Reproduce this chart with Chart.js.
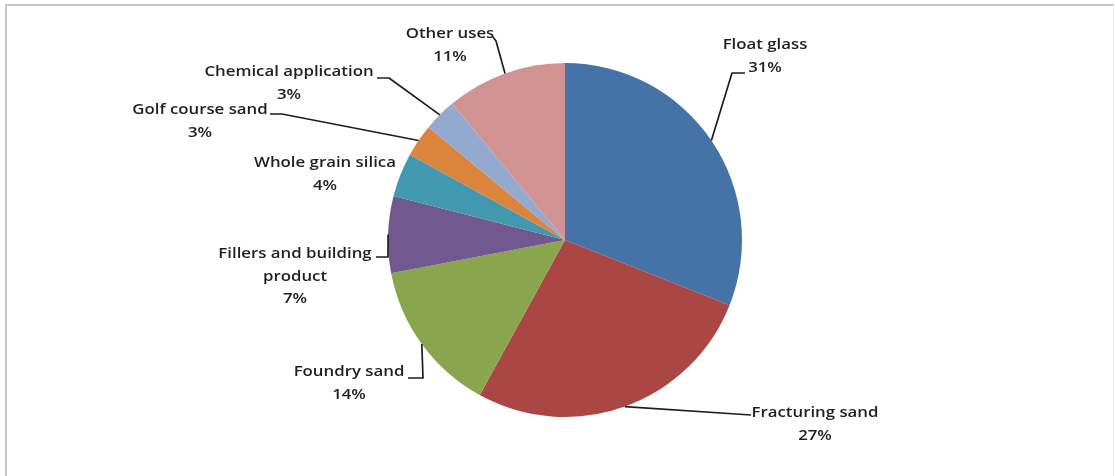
<!DOCTYPE html>
<html>
<head>
<meta charset="utf-8">
<title>Silica sand end uses</title>
<script src="https://cdn.jsdelivr.net/npm/chart.js@4/dist/chart.umd.min.js"></script>
<style>
  html, body { margin: 0; padding: 0; background: #ffffff; }
  #frame {
    position: absolute; left: 5px; top: 4px; width: 1109px; height: 480px;
    border-left: 2px solid #c6c6c6; border-top: 2px solid #c6c6c6;
    border-right: 1px solid #efefef; box-sizing: border-box;
  }
  #wrap { position: absolute; left: 0; top: 0; width: 1115px; height: 476px; }
</style>
</head>
<body>
<div id="frame"></div>
<div id="wrap"><canvas id="chart" width="1115" height="476"></canvas></div>
<script>
// Silica sand consumption by end use (percent of total)
const categories = [
  'Float glass',
  'Fracturing sand',
  'Foundry sand',
  ['Fillers and building', 'product'],
  'Whole grain silica',
  'Golf course sand',
  'Chemical application',
  'Other uses'
];
const shares = [31, 27, 14, 7, 4, 3, 3, 11];
const sliceColors = ['#4572A7', '#AA4643', '#89A54E', '#71588F', '#4198AF', '#DB843D', '#93A9CF', '#D19392'];

// Where each data label sits, relative to the pie centre (px),
// and the bend points of its leader line (the line starts on the slice edge).
const labelPlacement = [
  { x: 200,  y: -195, leader: [[167, -167], [180, -167]] },
  { x: 250,  y: 173,  leader: [[186, 175]] },
  { x: -216, y: 132,  leader: [[-142, 138], [-157, 138]] },
  { x: -270, y: 14,   leader: [[-177, 17], [-189, 17]] },
  { x: -240, y: -77,  leader: [] },
  { x: -365, y: -130, leader: [[-283, -126], [-295, -126]] },
  { x: -276, y: -168, leader: [[-176, -162], [-188, -162]] },
  { x: -115, y: -206, leader: [[-69, -199], [-72, -203]] }
];

const LINE_GAP = 22.5;
const TEXT_STRETCH = 1.12;   // labels are set slightly wide

const pieLabels = {
  id: 'pieLabels',
  afterDatasetsDraw(chart) {
    const ctx = chart.ctx;
    const meta = chart.getDatasetMeta(0);
    const values = chart.data.datasets[0].data;
    ctx.save();
    meta.data.forEach((arc, i) => {
      const p = labelPlacement[i];
      const cx = arc.x, cy = arc.y;
      const mid = (arc.startAngle + arc.endAngle) / 2;
      const ex = cx + Math.cos(mid) * arc.outerRadius;
      const ey = cy + Math.sin(mid) * arc.outerRadius;

      if (p.leader.length) {
        ctx.beginPath();
        ctx.moveTo(ex, ey);
        p.leader.forEach(([dx, dy]) => ctx.lineTo(cx + dx, cy + dy));
        ctx.strokeStyle = '#1e1e1e';
        ctx.lineWidth = 1.7;
        ctx.lineJoin = 'round';
        ctx.stroke();
      }

      const name = chart.data.labels[i];
      const lines = (Array.isArray(name) ? name.slice() : [name]);
      lines.push(values[i] + '%');
      ctx.fillStyle = '#1f1f1f';
      ctx.font = '600 15px "Open Sans", sans-serif';
      ctx.textAlign = 'center';
      ctx.textBaseline = 'middle';
      lines.forEach((t, k) => {
        ctx.save();
        ctx.translate(cx + p.x, cy + p.y + k * LINE_GAP);
        ctx.scale(TEXT_STRETCH, 1);
        ctx.fillText(t, 0, 0);
        ctx.restore();
      });
    });
    ctx.restore();
  }
};

new Chart(document.getElementById('chart'), {
  type: 'pie',
  data: {
    labels: categories,
    datasets: [{
      data: shares,
      backgroundColor: sliceColors,
      borderWidth: 0
    }]
  },
  options: {
    responsive: false,
    animation: false,
    layout: { padding: { left: 200, right: 185, top: 63, bottom: 59 } },
    plugins: {
      legend: { display: false },
      tooltip: { enabled: false }
    }
  },
  plugins: [pieLabels]
});
</script>
</body>
</html>
